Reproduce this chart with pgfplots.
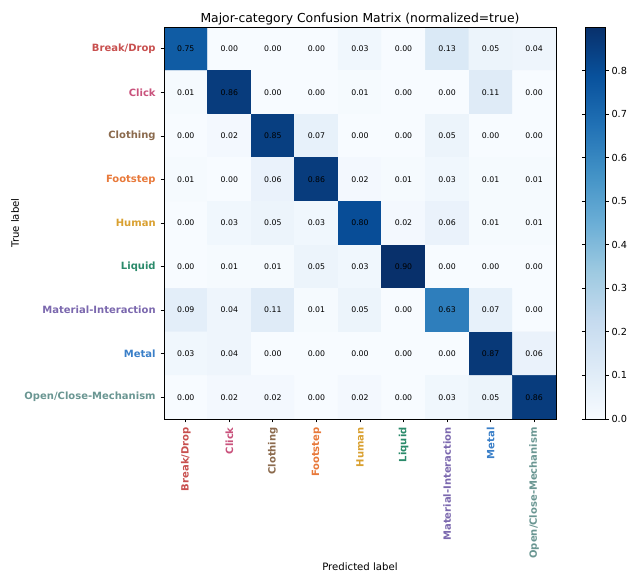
\documentclass[border=0pt]{standalone}
\usepackage{pgfplots}
\pgfplotsset{compat=1.18}
\usepackage{fontspec}
\setmainfont{DejaVu Sans}
\definecolor{cBreak}{HTML}{C8504F}
\definecolor{cClick}{HTML}{C9527C}
\definecolor{cCloth}{HTML}{8B6A4D}
\definecolor{cFoot}{HTML}{E8793A}
\definecolor{cHuman}{HTML}{D9A030}
\definecolor{cLiquid}{HTML}{2A8A6A}
\definecolor{cMat}{HTML}{7B68AE}
\definecolor{cMetal}{HTML}{3A7FC8}
\definecolor{cOpen}{HTML}{6A9692}
\pgfplotstableread{
x y v
0 0 0.75
1 0 0.00
2 0 0.00
3 0 0.00
4 0 0.03
5 0 0.00
6 0 0.13
7 0 0.05
8 0 0.04
0 1 0.01
1 1 0.86
2 1 0.00
3 1 0.00
4 1 0.01
5 1 0.00
6 1 0.00
7 1 0.11
8 1 0.00
0 2 0.00
1 2 0.02
2 2 0.85
3 2 0.07
4 2 0.00
5 2 0.00
6 2 0.05
7 2 0.00
8 2 0.00
0 3 0.01
1 3 0.00
2 3 0.06
3 3 0.86
4 3 0.02
5 3 0.01
6 3 0.03
7 3 0.01
8 3 0.01
0 4 0.00
1 4 0.03
2 4 0.05
3 4 0.03
4 4 0.80
5 4 0.02
6 4 0.06
7 4 0.01
8 4 0.01
0 5 0.00
1 5 0.01
2 5 0.01
3 5 0.05
4 5 0.03
5 5 0.90
6 5 0.00
7 5 0.00
8 5 0.00
0 6 0.09
1 6 0.04
2 6 0.11
3 6 0.01
4 6 0.05
5 6 0.00
6 6 0.63
7 6 0.07
8 6 0.00
0 7 0.03
1 7 0.04
2 7 0.00
3 7 0.00
4 7 0.00
5 7 0.00
6 7 0.00
7 7 0.87
8 7 0.06
0 8 0.00
1 8 0.02
2 8 0.02
3 8 0.00
4 8 0.02
5 8 0.00
6 8 0.03
7 8 0.05
8 8 0.86
}\cmdata
\begin{document}
\begin{tikzpicture}
\useasboundingbox (-118.1pt,-110.2pt) rectangle (334.1pt,301.7pt);
\begin{axis}[
  at={(0pt,0pt)}, anchor=south west,
  scale only axis, width=282.2pt, height=282.2pt,
  xmin=-0.5, xmax=8.5, ymin=-0.5, ymax=8.5,
  y dir=reverse, enlargelimits=false, axis on top,
  axis line style={line width=0.58pt},
  tick align=outside, major tick length=2.5pt,
  tick style={line width=0.58pt, black},
  xtick={0,...,8}, ytick={0,...,8},
  xtick pos=bottom, ytick pos=left,
  xticklabels={
    \textcolor{cBreak}{Break/Drop},
    \textcolor{cClick}{Click},
    \textcolor{cCloth}{Clothing},
    \textcolor{cFoot}{Footstep},
    \textcolor{cHuman}{Human},
    \textcolor{cLiquid}{Liquid},
    \textcolor{cMat}{Material-Interaction},
    \textcolor{cMetal}{Metal},
    \textcolor{cOpen}{Open/Close-Mechanism}},
  yticklabels={
    \textcolor{cBreak}{Break/Drop},
    \textcolor{cClick}{Click},
    \textcolor{cCloth}{Clothing},
    \textcolor{cFoot}{Footstep},
    \textcolor{cHuman}{Human},
    \textcolor{cLiquid}{Liquid},
    \textcolor{cMat}{Material-Interaction},
    \textcolor{cMetal}{Metal},
    \textcolor{cOpen}{Open/Close-Mechanism}},
  xticklabel style={rotate=90, anchor=east, font=\fontsize{7.2}{8}\selectfont\bfseries},
  yticklabel style={font=\fontsize{7.2}{8}\selectfont\bfseries},
  title={Major-category Confusion Matrix (normalized=true)},
  title style={at={(axis description cs:0.5,1)}, anchor=center, yshift=0pt, font=\fontsize{8.9}{10}\selectfont},
  xlabel={Predicted label},
  xlabel style={at={(axis description cs:0.5,-0.378)}, anchor=center, font=\fontsize{7.3}{8}\selectfont},
  ylabel={True label},
  ylabel style={at={(axis description cs:-0.38,0.5)}, anchor=center, rotate=0, font=\fontsize{7.3}{8}\selectfont},
  colormap={blues}{rgb255=(247,251,255) rgb255=(222,235,247) rgb255=(198,219,239) rgb255=(158,202,225) rgb255=(107,174,214) rgb255=(66,146,198) rgb255=(33,113,181) rgb255=(8,81,156) rgb255=(8,48,107)},
  point meta min=0, point meta max=0.90,
  colorbar,
  colorbar style={
    at={(parent axis.north east)}, anchor=north west, xshift=12.6pt,
    width=14.4pt, height=282.2pt,
    ytick={0,0.1,0.2,0.3,0.4,0.5,0.6,0.7,0.8},
    axis line style={line width=0.58pt},
    tick align=outside, major tick length=2.5pt,
    tick style={line width=0.58pt, black},
    yticklabel style={font=\fontsize{7.0}{8}\selectfont, inner sep=1.8pt,
      /pgf/number format/.cd, fixed, fixed zerofill, precision=1, assume math mode=true},
  },
]
\addplot[matrix plot*, mesh/cols=9, point meta=explicit,
  nodes near coords={\pgfmathprintnumber[fixed,fixed zerofill,precision=2,assume math mode=true]{\pgfplotspointmeta}},
  every node near coord/.append style={font=\fontsize{5.6}{6}\selectfont, anchor=center, black}]
  table[x=x, y=y, meta=v] {\cmdata};
\end{axis}
\end{tikzpicture}
\end{document}
